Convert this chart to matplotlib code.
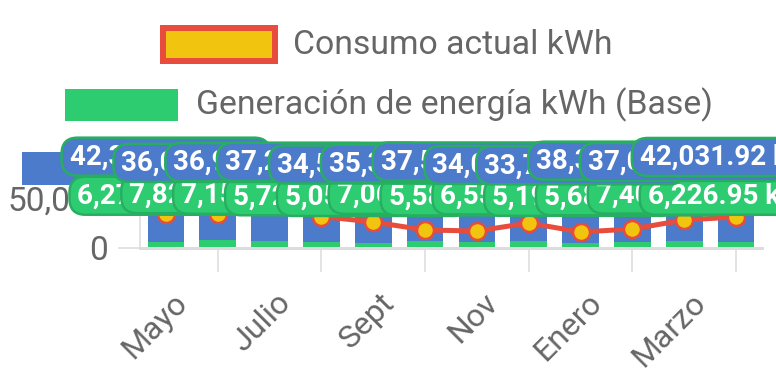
import matplotlib
matplotlib.use("Agg")
import matplotlib.pyplot as plt
from matplotlib.patches import FancyBboxPatch, Rectangle
from matplotlib.transforms import Affine2D, ScaledTranslation

plt.rcParams['font.family'] = ['Roboto', 'DejaVu Sans']

# ---------------- data ----------------
months = ['Abril', 'Mayo', 'Junio', 'Julio', 'Agosto', 'Sept',
          'Oct', 'Nov', 'Dic', 'Enero', 'Feb', 'Marzo']
consumo_actual = [34500, 34500, 44000, 31500, 26000, 18000,
                  17000, 25000, 16000, 19000, 28000, 31000]
generacion = [6271.40, 7823.15, 7152.60, 5728.30, 5052.75, 7068.20,
              5581.45, 6554.90, 5190.35, 5683.10, 7401.85, 6226.95]
consumo_red = [42318.55, 36082.40, 36945.10, 37216.80, 34512.65, 35341.25,
               37528.90, 34076.35, 33714.60, 38352.45, 37061.70, 42031.92]
legend_labels = ['Consumo actual kWh', 'Generación de energía kWh (Base)']
y_ticks = [0, 50000]
y_tick_labels = ['0', '50,000']

# ---------------- style ----------------
BLUE = '#4b7bca'
GREEN = '#2ecc71'
DKGREEN = '#27ae60'
RED = '#e74c3c'
YELLOW = '#f1c40f'
GRAY_TXT = '#666666'
GRID = '#e3e3e3'
W, H = 776, 388
PT = 0.72  # points per pixel at dpi 100

fig = plt.figure(figsize=(W / 100, H / 100), dpi=100)
# chart area in pixels: x 140..762, y 198..248 (top-down)
ax = fig.add_axes([140 / W, (H - 248) / H, 622 / W, 50 / H])
x = list(range(len(months)))
ax.set_xlim(-0.5, len(months) - 0.5)
ax.set_ylim(0, 50000)

ax.bar(x, consumo_red, width=0.71, color=BLUE, zorder=2)
ax.bar(x, generacion, width=0.71, color=GREEN, zorder=2.5)
ax.plot(x, consumo_actual, color=RED, lw=5 * PT, marker='o', ms=17 * PT,
        mfc=YELLOW, mec=RED, mew=2.5 * PT, zorder=4, clip_on=False)

for s in ['top', 'right']:
    ax.spines[s].set_visible(False)
ax.spines['left'].set_color(GRID)
ax.spines['left'].set_linewidth(2 * PT)
ax.spines['bottom'].set_color('#dcdcdc')
ax.spines['bottom'].set_linewidth(3 * PT)
ax.spines['bottom'].set_zorder(3)

ax.set_yticks(y_ticks)
ax.set_yticklabels(y_tick_labels)
ax.tick_params(axis='y', length=22 * PT, width=2 * PT, color=GRID,
               labelcolor=GRAY_TXT, labelsize=24, pad=10 * PT)

ax.set_xticks(x[1::2])
ax.set_xticklabels(months[1::2])
ax.tick_params(axis='x', length=24 * PT, width=2 * PT, color=GRID,
               labelcolor=GRAY_TXT, labelsize=23, pad=26 * PT)
for lbl in ax.get_xticklabels():
    lbl.set_rotation(45)
    lbl.set_ha('right')
    lbl.set_va('center')
    lbl.set_rotation_mode('anchor')
    lbl.set_transform(lbl.get_transform() + ScaledTranslation(-0.35, 0, fig.dpi_scale_trans))

# ---------------- legend (drawn by hand, in pixel layout) ----------------
def fx(px):
    return px / W

def fy(py):
    return 1 - py / H

ax.add_patch(Rectangle((fx(163), fy(61)), 112 / W, 33 / H, transform=fig.transFigure,
                       fc=YELLOW, ec=RED, lw=6 * PT, clip_on=False, zorder=1))
ax.text(fx(293), fy(45), legend_labels[0], transform=fig.transFigure, fontsize=24.3,
        color=GRAY_TXT, ha='left', va='center', zorder=1)
ax.add_patch(Rectangle((fx(65), fy(121)), 113 / W, 32 / H, transform=fig.transFigure,
                       fc=GREEN, ec='none', clip_on=False, zorder=1))
ax.text(fx(196), fy(105), legend_labels[1], transform=fig.transFigure, fontsize=24.3,
        color=GRAY_TXT, ha='left', va='center', zorder=1)
ax.add_patch(Rectangle((fx(22), fy(185)), 115 / W, 33 / H, transform=fig.transFigure,
                       fc=BLUE, ec='none', clip_on=False, zorder=1))

# ---------------- data labels ----------------
fig.canvas.draw()
renderer = fig.canvas.get_renderer()
PAD_L = 8
PAD_R = 13
BOX_H = 38

def data_label(xi, val, dy, fc, zo):
    tr = Affine2D().translate(0, dy) + ScaledTranslation(xi, val, ax.transData)
    t = ax.text(0, -8, f"{val:,.2f} kWh", transform=tr, ha='left', va='baseline',
                color='white', fontsize=20, fontweight='bold', zorder=zo + 0.5,
                clip_on=False)
    tw = t.get_window_extent(renderer).width
    w = tw + PAD_L + PAD_R
    t.set_x(-w / 2 + PAD_L)
    box = FancyBboxPatch((-w / 2, -BOX_H / 2), w, BOX_H,
                         boxstyle='round,pad=0,rounding_size=16', transform=tr,
                         fc=fc, ec=DKGREEN, lw=2.5 * PT, zorder=zo, clip_on=False)
    ax.add_patch(box)

z = 10
for xi, v in zip(x, generacion):
    data_label(xi, v, 46, GREEN, z)
    z += 1
for xi, v in zip(x, consumo_red):
    data_label(xi, v, 49, BLUE, z)
    z += 1

fig.savefig('out.png', dpi=100)
